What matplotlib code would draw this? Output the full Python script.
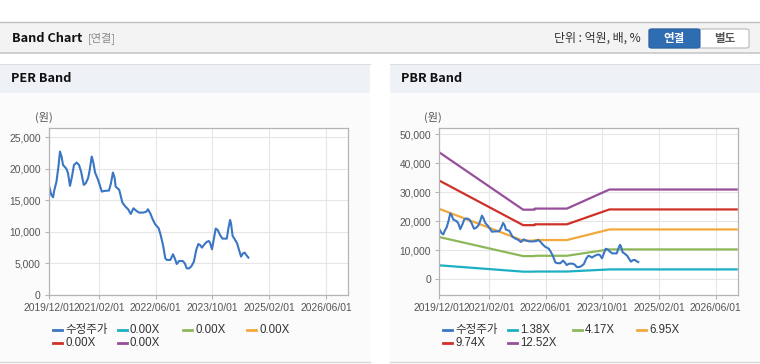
import matplotlib
matplotlib.use('Agg')
import matplotlib.pyplot as plt
import matplotlib.dates as mdates
from matplotlib.patches import Rectangle, FancyBboxPatch
from matplotlib.lines import Line2D
from matplotlib.ticker import FuncFormatter
import pandas as pd

W, H = 760, 364
KR = ['Noto Sans CJK KR', 'DejaVu Sans']
LAT = ['Liberation Sans', 'Noto Sans CJK KR']

# 수정주가 (원)
price_dates = [
    '2019-12-01', '2019-12-21', '2020-01-05', '2020-01-13', '2020-02-03', '2020-02-20',
    '2020-03-04', '2020-03-18', '2020-03-30', '2020-04-28', '2020-05-12', '2020-05-29',
    '2020-06-15', '2020-07-02', '2020-07-25', '2020-08-14', '2020-09-01', '2020-09-24',
    '2020-10-11', '2020-10-31', '2020-11-14', '2020-12-01', '2020-12-13', '2020-12-30',
    '2021-01-25', '2021-02-26', '2021-03-22', '2021-04-28', '2021-05-15', '2021-06-01',
    '2021-06-16', '2021-06-24', '2021-07-25', '2021-08-21', '2021-09-16', '2021-10-09',
    '2021-11-01', '2021-11-24', '2021-12-16', '2022-01-11', '2022-02-15', '2022-03-14',
    '2022-03-28', '2022-04-17', '2022-05-10', '2022-05-27', '2022-06-28', '2022-07-15',
    '2022-08-04', '2022-08-24', '2022-09-08', '2022-10-06', '2022-10-29', '2022-11-13',
    '2022-11-30', '2022-12-20', '2023-01-20', '2023-02-07', '2023-02-24', '2023-03-17',
    '2023-04-06', '2023-04-26', '2023-05-16', '2023-06-03', '2023-06-17', '2023-07-04',
    '2023-07-21', '2023-08-10', '2023-08-31', '2023-09-11', '2023-09-28', '2023-10-10',
    '2023-10-30', '2023-11-16', '2023-12-06', '2023-12-26', '2024-02-02', '2024-02-16',
    '2024-03-01', '2024-03-09', '2024-03-23', '2024-04-07', '2024-04-30', '2024-05-17',
    '2024-06-03', '2024-06-20', '2024-07-04', '2024-07-18', '2024-08-05',
]
price_values = [
    17300, 15850, 15480, 16400, 17960, 20340,
    22720, 21900, 20600, 20000, 19290, 17280,
    18760, 20600, 20980, 20600, 19550, 17440,
    17700, 18500, 19800, 21930, 21140, 19400,
    18230, 16380, 16490, 16540, 17700, 19400,
    18500, 17170, 16650, 14640, 14000, 13580,
    12840, 13740, 13370, 13050, 13050, 13200,
    13580, 12940, 11890, 11260, 10570, 9510,
    7930, 5810, 5550, 5550, 6450, 5810,
    4910, 5390, 5390, 5020, 4220, 4220,
    4600, 5280, 7130, 8080, 7930, 7500,
    7930, 8350, 8560, 8300, 7240, 8450,
    10520, 10300, 9510, 8930, 8930, 10570,
    11890, 11360, 9350, 8930, 8190, 7130,
    6080, 6600, 6710, 6340, 5920,
]

# PBR 밴드
band_dates = ['2019-12-01', '2021-11-20', '2022-02-25', '2022-03-01',
              '2022-12-01', '2023-12-01', '2026-12-08']
pbr_138 = [4820, 2640, 2640, 2680, 2680, 3410, 3410]
pbr_417 = [14550, 7990, 7990, 8110, 8110, 10300, 10300]
pbr_695 = [24260, 13310, 13310, 13520, 13520, 17170, 17170]
pbr_974 = [33990, 18650, 18650, 18940, 18940, 24060, 24060]
pbr_1252 = [43700, 23980, 23980, 24350, 24350, 30920, 30920]

per_labels = ['수정주가', '0.00X', '0.00X', '0.00X', '0.00X', '0.00X']
pbr_labels = ['수정주가', '1.38X', '4.17X', '6.95X', '9.74X', '12.52X']
colors = ['#3a76c4', '#1eafc2', '#8db85a', '#f2a83c', '#cf3129', '#984f9a']

x_ticks = ['2019/12/01', '2021/02/01', '2022/06/01', '2023/10/01', '2025/02/01', '2026/06/01']
x_range = ['2019-12-01', '2026-12-07']
per_yticks = [0, 5000, 10000, 15000, 20000, 25000]
pbr_yticks = [0, 10000, 20000, 30000, 40000, 50000]


def fx(x):
    return x / W


def fy(y):
    return 1 - y / H


def rect(fig, x, y, w, h, color):
    fig.patches.append(Rectangle((fx(x), fy(y + h)), w / W, h / H, transform=fig.transFigure,
                                 facecolor=color, edgecolor='none', zorder=-2))


def hline(fig, x0, x1, y, color, lw=1.0):
    fig.lines.append(Line2D([fx(x0), fx(x1)], [fy(y), fy(y)], transform=fig.transFigure,
                            color=color, lw=lw, zorder=-1))


def style_axes(ax, yticks, ylim):
    ax.set_zorder(3)
    ax.set_facecolor('white')
    ax.set_xlim(pd.to_datetime(x_range))
    ax.set_ylim(ylim)
    ax.set_xticks(pd.to_datetime(x_ticks))
    ax.xaxis.set_major_formatter(mdates.DateFormatter('%Y/%m/%d'))
    ax.set_yticks(yticks)
    ax.yaxis.set_major_formatter(FuncFormatter(lambda v, p: f'{int(v):,}'))
    ax.grid(True, color='#e6e6e6', lw=0.8)
    ax.set_axisbelow(True)
    for s in ax.spines.values():
        s.set_color('#b4b4b4')
        s.set_linewidth(0.9)
    ax.tick_params(length=3, width=0.8, color='#b4b4b4', labelcolor='#555555',
                   labelsize=7.4, pad=3)
    for lab in ax.get_xticklabels() + ax.get_yticklabels():
        lab.set_family(LAT)


def draw_legend(fig, x0, labels):
    col_x = [0, 65, 130, 194]
    for i, (lab, c) in enumerate(zip(labels, colors)):
        x = x0 + col_x[i % 4]
        y = 330 + 13 * (i // 4)
        fig.lines.append(Line2D([fx(x), fx(x + 9)], [fy(y), fy(y)], transform=fig.transFigure,
                                color=c, lw=2.0))
        fig.text(fx(x + 12), fy(y), lab, ha='left', va='center', fontsize=8.3,
                 color='#333333', family=LAT)


def main():
    fig = plt.figure(figsize=(W / 100, H / 100), dpi=100)
    fig.patch.set_facecolor('white')

    # 상단 헤더
    rect(fig, 0, 22, 760, 31, '#f3f3f3')
    hline(fig, 0, 760, 22, '#bdbdbd', 1.0)
    hline(fig, 0, 760, 53, '#c8c8c8', 1.2)
    fig.text(fx(12), fy(38), 'Band Chart', ha='left', va='center', fontsize=9.2,
             fontweight='bold', color='#111111', family=KR)
    fig.text(fx(88), fy(38), '[연결]', ha='left', va='center', fontsize=8,
             color='#888888', family=KR)
    fig.text(fx(641), fy(38), '단위 : 억원, 배, %', ha='right', va='center', fontsize=8.6,
             color='#333333', family=KR)
    fig.patches.append(FancyBboxPatch((fx(649), fy(48)), 100 / W, 19 / H,
                                      boxstyle='round,pad=0,rounding_size=0.004',
                                      transform=fig.transFigure, facecolor='white',
                                      edgecolor='#b8b8b8', lw=0.8))
    fig.patches.append(FancyBboxPatch((fx(649), fy(48)), 51 / W, 19 / H,
                                      boxstyle='round,pad=0,rounding_size=0.004',
                                      transform=fig.transFigure, facecolor='#2f6db3',
                                      edgecolor='#2a62a2', lw=0.8))
    fig.text(fx(674), fy(38.5), '연결', ha='center', va='center', fontsize=8.3,
             fontweight='bold', color='white', family=KR)
    fig.text(fx(725), fy(38.5), '별도', ha='center', va='center', fontsize=8.3,
             fontweight='bold', color='#555555', family=KR)

    # 패널 배경
    for px0, title in [(0, 'PER Band'), (390, 'PBR Band')]:
        rect(fig, px0, 64, 370, 29, '#eef2f7')
        rect(fig, px0, 93, 370, 269, '#fbfbfb')
        hline(fig, px0, px0 + 370, 64, '#dddddd', 0.8)
        hline(fig, px0, px0 + 370, 362, '#d8d8d8', 1.0)
        fig.text(fx(px0 + 11), fy(79), title, ha='left', va='center', fontsize=9.2,
                 fontweight='bold', color='#111111', family=KR)

    fig.text(fx(35), fy(117), '(원)', ha='left', va='center', fontsize=8,
             color='#555555', family=KR)
    fig.text(fx(424), fy(117), '(원)', ha='left', va='center', fontsize=8,
             color='#555555', family=KR)

    pdates = pd.to_datetime(price_dates)
    bdates = pd.to_datetime(band_dates)

    # PER Band
    ax1 = fig.add_axes([fx(49), fy(295), (348 - 49) / W, (295 - 128) / H])
    style_axes(ax1, per_yticks, (0, 26450))
    ax1.plot(pdates, price_values, color=colors[0], lw=1.5)
    draw_legend(fig, 53, per_labels)

    # PBR Band
    ax2 = fig.add_axes([fx(439.3), fy(295), (737.7 - 439.3) / W, (295 - 128) / H])
    style_axes(ax2, pbr_yticks, (-5400, 52100))
    bands = [pbr_138, pbr_417, pbr_695, pbr_974, pbr_1252]
    for vals, c in zip(bands, colors[1:]):
        ax2.plot(bdates, vals, color=c, lw=1.6, solid_capstyle='butt')
    ax2.plot(pdates, price_values, color=colors[0], lw=1.5)
    draw_legend(fig, 443, pbr_labels)

    fig.savefig('out.png', dpi=100, facecolor=fig.get_facecolor())


if __name__ == '__main__':
    main()
